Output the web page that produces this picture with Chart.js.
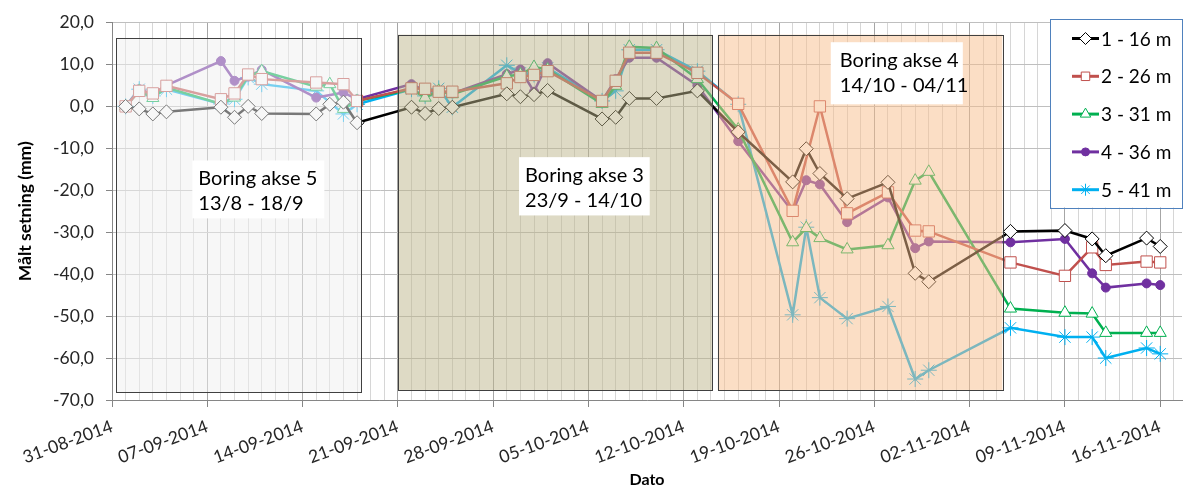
<!DOCTYPE html>
<html>
<head>
<meta charset="utf-8">
<script src="https://cdn.jsdelivr.net/npm/chart.js@4/dist/chart.umd.min.js"></script>
<style>
  html, body { margin: 0; background: #fff; }
  #wrap { width: 1191px; height: 490px; }
</style>
</head>
<body>
<div id="wrap"><canvas id="chart"></canvas></div>
<script>
// measuring dates
const dates = ['01-09-2014','02-09-2014','03-09-2014','04-09-2014','08-09-2014','09-09-2014','10-09-2014','11-09-2014',
  '15-09-2014','16-09-2014','17-09-2014','18-09-2014','22-09-2014','23-09-2014','24-09-2014','25-09-2014',
  '29-09-2014','30-09-2014','01-10-2014','02-10-2014','06-10-2014','07-10-2014','08-10-2014','10-10-2014',
  '13-10-2014','16-10-2014','20-10-2014','21-10-2014','22-10-2014','24-10-2014','27-10-2014','29-10-2014',
  '30-10-2014','05-11-2014','09-11-2014','11-11-2014','12-11-2014','15-11-2014','16-11-2014'];

// settlement (mm) per point
const s16 = [0, -0.6, -1.8, -1.3, -0.2, -2.6, 0.0, -1.7, -1.8, 0.5, 1.0, -3.9, -0.2, -1.7, -0.5, -0.2,
  3.0, 2.3, 2.8, 3.8, -3.0, -2.6, 1.9, 1.9, 3.7, -6.1, -18.0, -10.1, -16.0, -22.0, -18.1, -39.8,
  -41.8, -29.8, -29.6, -31.6, -35.6, -31.4, -33.4];
const s26 = [0, 3.7, 3.1, 4.9, 1.7, 3.1, 7.6, 6.5, 5.7, null, 5.3, 1.3, 4.3, 4.2, 3.5, 3.5,
  5.5, 7.0, 7.5, 8.4, 1.3, 6.1, 12.8, 12.8, 8.0, 0.6, -24.9, null, 0.0, -25.5, -20.5, -29.6,
  -29.8, -37.2, -40.4, -33.6, -37.8, -37.0, -37.2];
const s31 = [0, 3.7, 2.0, 4.5, 0.6, 2.1, 7.2, 8.4, 4.7, 5.3, -0.6, 1.3, 4.1, 2.1, 3.7, 2.9,
  7.2, 7.6, 9.4, 8.8, 0.6, 4.9, 14.2, 13.9, 6.5, -5.5, -32.4, -29.0, -31.4, -34.1, -33.1, -17.7,
  -15.6, -48.2, -49.2, -49.4, -54.0, -54.0, -54.0];
const s36 = [0, 4.1, 2.9, 5.0, 10.8, 6.1, 7.1, 8.7, 2.1, null, 3.3, 1.7, 5.3, 3.7, 3.7, 3.1,
  7.7, 8.8, 3.5, 10.3, 1.3, 6.5, 11.6, 11.6, 5.0, -8.3, -25.1, -17.6, -18.6, -27.6, -21.7, -33.8,
  -32.2, -32.4, -31.6, -39.8, -43.2, -42.2, -42.6];
const s41 = [0, 4.1, 2.5, 4.1, 0.6, 1.7, 6.9, 5.3, 3.7, null, -1.8, 0.5, 4.1, 2.5, 4.3, -0.2,
  9.8, 8.0, 7.6, 9.2, 1.3, 3.7, 13.5, 13.5, 8.4, 0.5, -49.7, -28.8, -45.6, -50.6, -47.7, -65.0,
  -62.9, -52.8, -55.0, -55.0, -60.0, -57.6, -59.0];

const seriesNames = ['1 - 16 m', '2 - 26 m', '3 - 31 m', '4 - 36 m', '5 - 41 m'];
const xTickLabels = ['31-08-2014','07-09-2014','14-09-2014','21-09-2014','28-09-2014','05-10-2014',
  '12-10-2014','19-10-2014','26-10-2014','02-11-2014','09-11-2014','16-11-2014'];

// days since 31-08-2014
function dayNo(s) {
  const p = s.split('-');
  return (Date.UTC(+p[2], +p[1] - 1, +p[0]) - Date.UTC(2014, 7, 31)) / 86400000;
}
const days = dates.map(dayNo);

const styles = [
  { color: '#000000', pointStyle: 'rectRot',  radius: 7,   fill: '#ffffff' },
  { color: '#c0504d', pointStyle: 'rect',     radius: 8,   fill: '#ffffff' },
  { color: '#00b050', pointStyle: 'triangle', radius: 7,   fill: '#ffffff' },
  { color: '#7030a0', pointStyle: 'circle',   radius: 4.5, fill: '#7030a0' },
  { color: '#00b0f0', pointStyle: 'star',     radius: 8,   fill: '#00b0f0' }
];

const datasets = [s16, s26, s31, s36, s41].map((vals, i) => ({
  label: seriesNames[i],
  data: vals.map((v, j) => ({ x: days[j], y: v })),
  borderColor: styles[i].color,
  backgroundColor: styles[i].fill,
  borderWidth: 2.5,
  pointStyle: styles[i].pointStyle,
  pointRadius: styles[i].radius,
  pointBorderColor: styles[i].color,
  pointBackgroundColor: styles[i].fill,
  pointBorderWidth: 1,
  tension: 0,
  spanGaps: true
}));

// drilling periods, drawn as translucent boxes over the lines (data coords)
const periods = [
  { x0: 0.3,  x1: 18.3, y0: 16.2, y1: -68.3, fill: 'rgba(239,239,239,0.5)',
    label: ['Boring akse 5', '13/8 - 18/9'],  lx0: 5.9,  lx1: 15.6, ly0: -12.9, ly1: -26.7, pad: 6 },
  { x0: 21.0, x1: 44.1, y0: 17.1, y1: -67.6, fill: 'rgba(190,182,140,0.5)',
    label: ['Boring akse 3', '23/9 - 14/10'], lx0: 29.9, lx1: 39.5, ly0: -12.1, ly1: -26.0, pad: 6 },
  { x0: 44.5, x1: 65.4, y0: 17.1, y1: -67.6, fill: 'rgba(248,190,140,0.5)',
    label: ['Boring akse 4', '14/10 - 04/11'], lx0: 52.8, lx1: 62.5, ly0: 15.3, ly1: 0.5, pad: 9 }
];

const periodPlugin = {
  id: 'periods',
  afterDatasetsDraw(chart) {
    const { ctx, chartArea, scales: { x, y } } = chart;
    ctx.save();
    ctx.beginPath();
    ctx.rect(chartArea.left, chartArea.top, chartArea.width, chartArea.height);
    ctx.clip();
    periods.forEach(p => {
      const l = x.getPixelForValue(p.x0), r = x.getPixelForValue(p.x1);
      const t = y.getPixelForValue(p.y0), b = y.getPixelForValue(p.y1);
      ctx.fillStyle = p.fill;
      ctx.fillRect(l, t, r - l, b - t);
      ctx.strokeStyle = '#404040';
      ctx.lineWidth = 1;
      ctx.strokeRect(Math.round(l) + 0.5, Math.round(t) + 0.5, Math.round(r - l), Math.round(b - t));

      const tl = x.getPixelForValue(p.lx0), tr = x.getPixelForValue(p.lx1);
      const tt = y.getPixelForValue(p.ly0), tb = y.getPixelForValue(p.ly1);
      ctx.fillStyle = '#ffffff';
      ctx.fillRect(tl, tt, tr - tl, tb - tt);
      ctx.fillStyle = '#000000';
      ctx.font = '20px Lato';
      ctx.textBaseline = 'middle';
      ctx.textAlign = 'left';
      ctx.fillText(p.label[0], tl + p.pad, tt + 18);
      ctx.fillText(p.label[1], tl + p.pad, tt + 43);
    });
    ctx.restore();
  },
  afterDraw(chart) {
    // legend box in the upper right corner
    const { ctx, chartArea } = chart;
    const w = 132, h = 189;
    const lx = chartArea.right - w, ly = chartArea.top - 4;
    ctx.save();
    ctx.fillStyle = '#ffffff';
    ctx.fillRect(lx, ly, w, h);
    ctx.strokeStyle = '#4f81bd';
    ctx.lineWidth = 1;
    ctx.strokeRect(Math.round(lx) + 0.5, Math.round(ly) + 0.5, w, h);
    chart.data.datasets.forEach((ds, i) => {
      const st = styles[i];
      const cy = ly + 20 + i * 37.8;
      ctx.strokeStyle = st.color;
      ctx.lineWidth = 3;
      ctx.beginPath();
      ctx.moveTo(lx + 22, cy);
      ctx.lineTo(lx + 49, cy);
      ctx.stroke();
      ctx.fillStyle = st.fill;
      ctx.lineWidth = 1;
      const r = st.pointStyle === 'circle' ? 4 : 6;
      if (Chart.helpers && Chart.helpers.drawPoint) {
        Chart.helpers.drawPoint(ctx, { pointStyle: st.pointStyle, radius: r, rotation: 0, borderWidth: 1 }, lx + 35.5, cy);
      }
      ctx.fillStyle = '#000000';
      ctx.font = '19px Lato';
      ctx.textAlign = 'left';
      ctx.textBaseline = 'middle';
      ctx.fillText(ds.label, lx + 51, cy + 1);
    });
    ctx.restore();
  }
};

Chart.defaults.font.family = 'Lato';
Chart.defaults.color = '#262626';

new Chart(document.getElementById('chart'), {
  type: 'line',
  data: { datasets },
  plugins: [periodPlugin],
  options: {
    responsive: true,
    maintainAspectRatio: false,
    animation: false,
    layout: { padding: { top: 22, right: 3, left: 0, bottom: 0 } },
    plugins: { legend: { display: false }, tooltip: { enabled: false } },
    scales: {
      x: {
        type: 'linear',
        min: 0,
        max: 78.6,
        afterBuildTicks: s => {
          const t = [];
          for (let d = 0; d <= 78; d++) t.push({ value: d });
          s.ticks = t;
        },
        afterFit: s => { s.height = 90; },
        ticks: {
          autoSkip: false,
          minRotation: 20,
          maxRotation: 20,
          padding: 9,
          font: { size: 17.5 },
          callback: v => (v % 7 === 0 ? xTickLabels[v / 7] : '')
        },
        grid: {
          color: c => (c.tick && c.tick.value % 7 === 0 ? '#a6a6a6' : '#d6d6d6'),
          tickColor: c => (c.tick && c.tick.value % 7 === 0 ? '#868686' : 'rgba(0,0,0,0)'),
          tickLength: 7
        },
        border: { color: '#868686' },
        title: { display: true, text: 'Dato', font: { size: 16, weight: 'bold' }, color: '#000', padding: { top: 0, bottom: 1 } }
      },
      y: {
        min: -70,
        max: 20,
        afterFit: s => { s.width = 112; },
        ticks: {
          stepSize: 10,
          padding: 12,
          font: { size: 17.5 },
          callback: v => v.toFixed(1).replace('.', ',')
        },
        grid: { color: '#bfbfbf', tickColor: '#868686', tickLength: 6 },
        border: { color: '#868686' },
        title: { display: true, text: 'Målt setning (mm)', font: { size: 17.5, weight: 'bold' }, color: '#000', padding: { top: 15, bottom: 0 } }
      }
    }
  }
});
</script>
</body>
</html>
